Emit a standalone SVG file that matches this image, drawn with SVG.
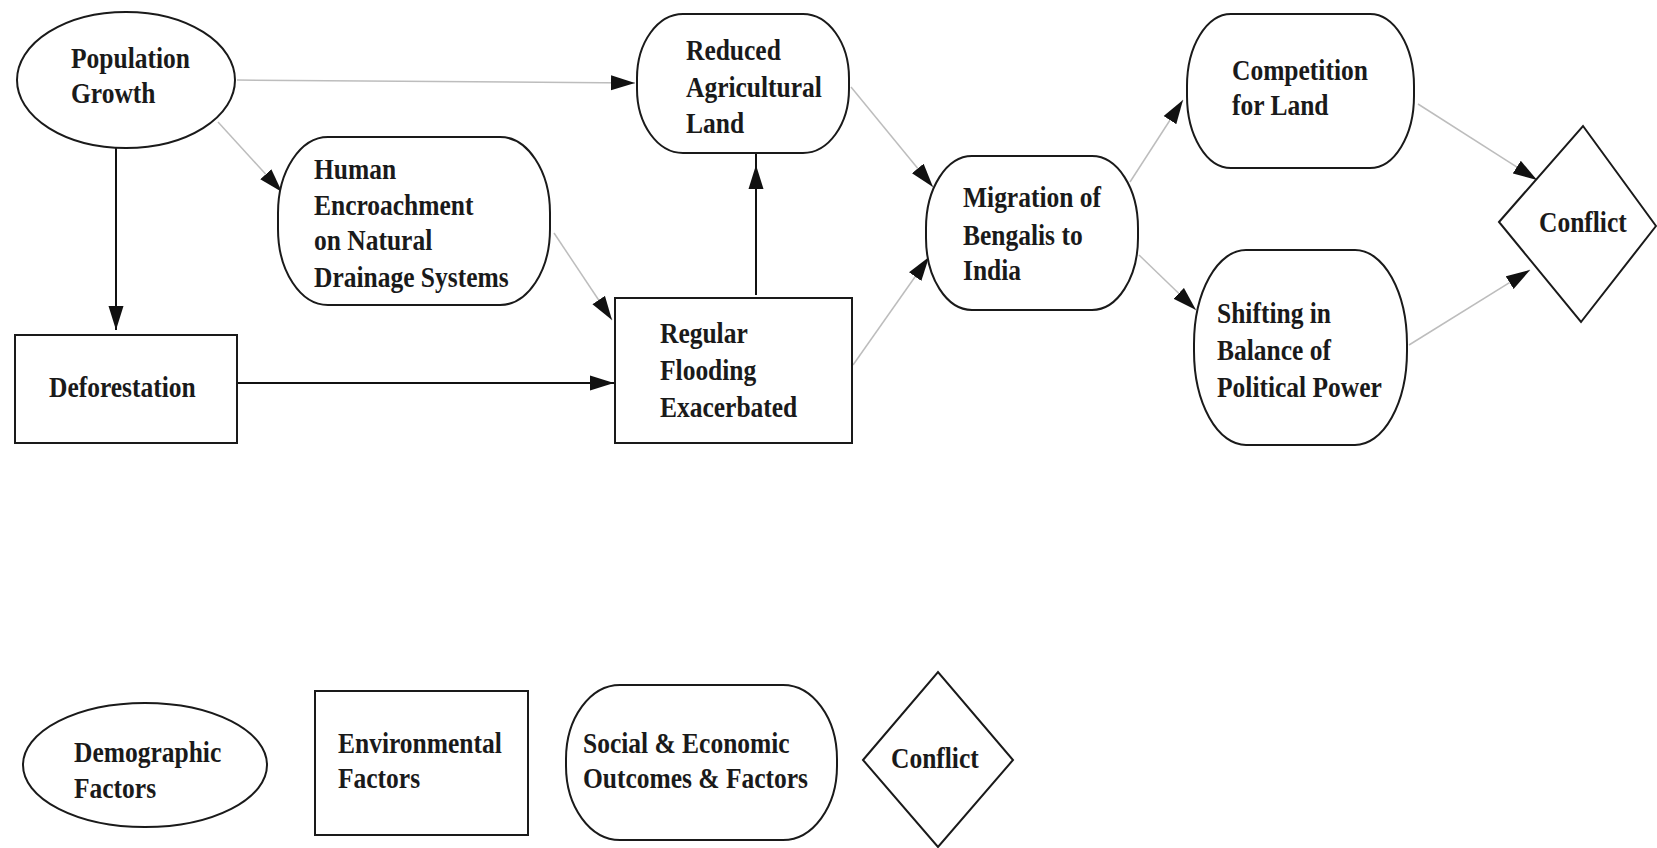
<svg xmlns="http://www.w3.org/2000/svg" width="1657" height="848" viewBox="0 0 1657 848">
<style>
.s{fill:#fff;stroke:#1a1a1a;stroke-width:2}
.t{font-family:"Liberation Serif","Times New Roman",serif;font-weight:bold;font-size:25.5px;fill:#1a1a1a}
.g{fill:none;stroke:#bdbdbd;stroke-width:1.5}
.k{fill:none;stroke:#111;stroke-width:2}
</style>
<defs>
<marker id="ah" markerUnits="userSpaceOnUse" markerWidth="26" markerHeight="16" refX="24" refY="8" orient="auto">
<path d="M0,0.5 L24,8 L0,15.5 z" fill="#111"/>
</marker>
</defs>
<rect width="1657" height="848" fill="#fff"/>
<g id="connectors">
<path class="g" d="M237,80 L635,83" marker-end="url(#ah)"/>
<path class="g" d="M218,122 L282,192" marker-end="url(#ah)"/>
<path class="k" d="M116,148 L116,330" marker-end="url(#ah)"/>
<path class="k" d="M237,383 L614,383" marker-end="url(#ah)"/>
<path class="g" d="M554,233 L612,320" marker-end="url(#ah)"/>
<path class="k" d="M756,295 L756,165" marker-end="url(#ah)"/>
<path class="k" d="M756,166 L756,143"/>
<path class="g" d="M851,87 L933,187" marker-end="url(#ah)"/>
<path class="g" d="M853,365 L929,257" marker-end="url(#ah)"/>
<path class="g" d="M1130,182 L1183,100" marker-end="url(#ah)"/>
<path class="g" d="M1139,255 L1196,310" marker-end="url(#ah)"/>
<path class="g" d="M1418,104 L1537,180" marker-end="url(#ah)"/>
<path class="g" d="M1409,345 L1530,270" marker-end="url(#ah)"/>
</g>
<g id="population-growth">
<ellipse class="s" cx="126" cy="80" rx="109" ry="68"/>
<text class="t" transform="matrix(1 0 0 1.13 0 68)"><tspan x="71" y="0">Population</tspan><tspan x="71" y="31">Growth</tspan></text>
</g>
<g id="deforestation">
<rect class="s" x="15" y="335" width="222" height="108"/>
<text class="t" transform="matrix(1 0 0 1.13 0 397)"><tspan x="49" y="0">Deforestation</tspan></text>
</g>
<g id="human-encroachment">
<rect class="s" x="278" y="137" width="272" height="168" rx="50" ry="76"/>
<text class="t" transform="matrix(1 0 0 1.13 0 179)"><tspan x="314" y="0">Human</tspan><tspan x="314" y="32">Encroachment</tspan><tspan x="314" y="63">on Natural</tspan><tspan x="314" y="95.5">Drainage Systems</tspan></text>
</g>
<g id="reduced-agricultural-land">
<rect class="s" x="637" y="14" width="212" height="139" rx="46" ry="64"/>
<text class="t" transform="matrix(1 0 0 1.13 0 60)"><tspan x="686" y="0">Reduced</tspan><tspan x="686" y="32.7">Agricultural</tspan><tspan x="686" y="64.6">Land</tspan></text>
</g>
<g id="regular-flooding">
<rect class="s" x="615" y="298" width="237" height="145"/>
<text class="t" transform="matrix(1 0 0 1.13 0 343)"><tspan x="660" y="0">Regular</tspan><tspan x="660" y="32.7">Flooding</tspan><tspan x="660" y="65.5">Exacerbated</tspan></text>
</g>
<g id="migration">
<rect class="s" x="926" y="156" width="212" height="154" rx="46" ry="72"/>
<text class="t" transform="matrix(1 0 0 1.13 0 207)"><tspan x="963" y="0">Migration of</tspan><tspan x="963" y="33.6">Bengalis to</tspan><tspan x="963" y="64.6">India</tspan></text>
</g>
<g id="competition-for-land">
<rect class="s" x="1187" y="14" width="227" height="154" rx="44" ry="72"/>
<text class="t" transform="matrix(1 0 0 1.13 0 80)"><tspan x="1232" y="0">Competition</tspan><tspan x="1232" y="31">for Land</tspan></text>
</g>
<g id="shifting-balance">
<rect class="s" x="1194" y="250" width="213" height="195" rx="52" ry="94"/>
<text class="t" transform="matrix(1 0 0 1.13 0 323)"><tspan x="1217" y="0">Shifting in</tspan><tspan x="1217" y="32.7">Balance of</tspan><tspan x="1217" y="65.5">Political Power</tspan></text>
</g>
<g id="conflict">
<polygon class="s" points="1499,222 1583,126 1656,226 1581,322"/>
<text class="t" transform="matrix(1 0 0 1.13 0 232)"><tspan x="1539" y="0">Conflict</tspan></text>
</g>
<g id="legend-demographic">
<ellipse class="s" cx="145" cy="765" rx="122" ry="62"/>
<text class="t" transform="matrix(1 0 0 1.13 0 762)"><tspan x="74" y="0">Demographic</tspan><tspan x="74" y="32">Factors</tspan></text>
</g>
<g id="legend-environmental">
<rect class="s" x="315" y="691" width="213" height="144"/>
<text class="t" transform="matrix(1 0 0 1.13 0 753)"><tspan x="338" y="0">Environmental</tspan><tspan x="338" y="31">Factors</tspan></text>
</g>
<g id="legend-social">
<rect class="s" x="566" y="685" width="271" height="155" rx="54" ry="74"/>
<text class="t" transform="matrix(1 0 0 1.13 0 753)"><tspan x="583" y="0">Social &amp; Economic</tspan><tspan x="583" y="31">Outcomes &amp; Factors</tspan></text>
</g>
<g id="legend-conflict">
<polygon class="s" points="863,760 938,672 1013,760 938,847"/>
<text class="t" transform="matrix(1 0 0 1.13 0 768)"><tspan x="891" y="0">Conflict</tspan></text>
</g>
</svg>
